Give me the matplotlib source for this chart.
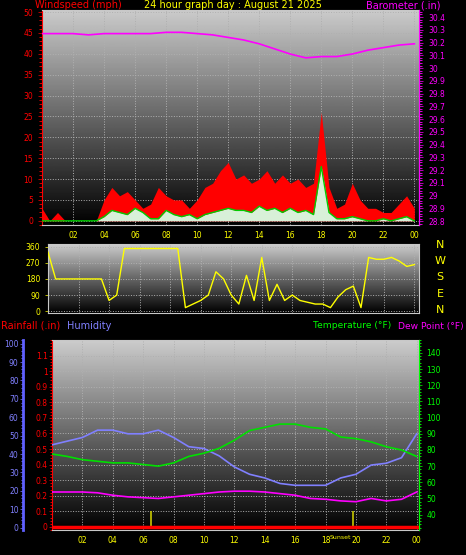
#!/usr/bin/env python3
"""Weather 24 hour graph: wind, barometer, direction, temperature, humidity."""

import numpy as np
import matplotlib
matplotlib.use("Agg")
import matplotlib.pyplot as plt
from matplotlib.ticker import MultipleLocator

W, H = 466, 555

half_hours = [i * 0.5 for i in range(49)]
hours = list(range(25))

gust = [3, 0, 2, 0, 0, 0, 0, 0, 5, 8, 6, 7, 5, 3, 4, 8, 6, 5, 5, 3, 5, 8, 9, 12, 14,
        10, 11, 9, 10, 12, 9, 11, 9, 10, 8, 9, 26, 8, 3, 4, 9, 5, 3, 3, 2, 2, 4, 6, 3]
wind_avg = [0, 0, 0, 0, 0, 0, 0, 0, 1, 2.5, 2, 1.5, 3, 2, 0.5, 0.5, 2.5, 1.5, 1, 1.5, 0.5,
            1.5, 2, 2.5, 3, 2.5, 2.5, 2, 3.5, 2.5, 3, 2, 3, 2, 2.5, 1.5, 13, 2, 0.5, 0.5,
            1, 0.5, 0, 0, 0.5, 0, 0.5, 1, 0]
barometer = [30.27, 30.27, 30.27, 30.26, 30.27, 30.27, 30.27, 30.27, 30.28, 30.28, 30.27,
             30.26, 30.24, 30.22, 30.19, 30.15, 30.11, 30.08, 30.09, 30.09, 30.11, 30.14,
             30.16, 30.18, 30.19]
wind_dir = [330, 180, 180, 180, 180, 180, 180, 180, 60, 90, 350, 350, 350, 350, 350, 350,
            350, 350, 20, 40, 60, 90, 220, 180, 90, 40, 200, 60, 300, 60, 150, 60, 90, 60,
            50, 40, 40, 20, 80, 120, 140, 20, 300, 290, 290, 300, 280, 250, 260]
humidity = [45, 47, 49, 53, 53, 51, 51, 53, 49, 44, 43, 39, 33, 29, 27, 24, 23, 23, 23,
            27, 29, 34, 35, 38, 51]
temperature = [77.5, 76, 74, 73, 72, 72, 71, 70, 72, 76, 78, 81, 86, 92, 94, 96, 96, 94,
               93, 88, 87, 85, 82, 80, 76]
dew_point = [54, 54, 54, 53.5, 52, 51, 50.5, 50, 51, 52, 53, 54, 54.5, 54.5, 54, 53, 52,
             50, 49.5, 48.5, 48, 50, 48.5, 49.5, 54]
rainfall = [0] * 25
sunrise, sunset = 6.5, 19.8

tick_hours = list(range(2, 25, 2))
tick_labels = [f"{h % 24:02d}" for h in tick_hours]

YEL = "#ffff00"
SZ = 5.5


def px_axes(fig, x0, y0, x1, y1):
    return fig.add_axes([x0 / W, 1 - y1 / H, (x1 - x0) / W, (y1 - y0) / H])


def backdrop(ax):
    grad = np.linspace(0.8, 0.0, 256).reshape(-1, 1)
    ax.imshow(grad, cmap="gray", vmin=0, vmax=1, extent=[0, 1, 0, 1],
              transform=ax.transAxes, aspect="auto", zorder=0)
    ax.grid(True, color="#b0b0b0", linestyle=":", linewidth=0.7, zorder=1)
    for s in ax.spines.values():
        s.set_color("#c8c8c8")


fig = plt.figure(figsize=(W / 100, H / 100), dpi=100, facecolor="black")

# --- wind / barometer ---
ax1 = px_axes(fig, 42, 10, 419, 225)
ax1.set_facecolor("black")
backdrop(ax1)
ax1.fill_between(half_hours, gust, color="#ff0000", zorder=2, linewidth=0)
ax1.fill_between(half_hours, wind_avg, color="#d8f0d8", zorder=3, linewidth=0)
ax1.plot(half_hours, wind_avg, color="#00cc00", linewidth=1, zorder=4)
ax1.set_xlim(0, 24.3)
ax1.set_ylim(-1, 50.5)
ax1.set_yticks(range(0, 51, 5))
ax1.yaxis.set_minor_locator(MultipleLocator(1))
ax1.tick_params(axis="y", colors="#ff0000", labelsize=SZ, length=3, width=0.5)
ax1.tick_params(axis="y", which="minor", colors="#ff0000", length=2)
ax1.set_xticks(tick_hours, tick_labels)
ax1.tick_params(axis="x", colors=YEL, labelsize=SZ, length=0, pad=4)
ax1.spines["left"].set_color("#ff0000")
ax1b = ax1.twinx()
ax1b.plot(hours, barometer, color="#ff00ff", linewidth=1.2, zorder=5)
ax1b.set_ylim(28.77, 30.455)
baro_ticks = np.round(np.arange(28.8, 30.41, 0.1), 1)
ax1b.set_yticks(baro_ticks)
ax1b.set_yticklabels([f"{v:g}" for v in baro_ticks])
ax1b.yaxis.set_minor_locator(MultipleLocator(0.02))
ax1b.tick_params(axis="y", colors="#ff00ff", labelsize=SZ, length=3, width=0.5)
ax1b.tick_params(axis="y", which="minor", colors="#ff00ff", length=2)
ax1b.spines["right"].set_color("#ff00ff")
for s in ("top", "left", "bottom"):
    ax1b.spines[s].set_visible(False)

fig.text(35 / W, 1 - 5 / H, "Windspeed (mph)", color="#ff0000", fontsize=7, va="center")
fig.text(233 / W, 1 - 5 / H, "24 hour graph day : August 21 2025", color=YEL,
         fontsize=7, va="center", ha="center")
fig.text(440 / W, 1 - 5 / H, "Barometer (.in)", color="#ff00ff", fontsize=7,
         va="center", ha="right")

# --- wind direction ---
ax2 = px_axes(fig, 48, 244, 419, 313)
ax2.set_facecolor("black")
backdrop(ax2)
ax2.plot(half_hours, wind_dir, color=YEL, linewidth=1, zorder=3)
ax2.set_xlim(0, 24.3)
ax2.set_ylim(-10, 375)
ax2.set_yticks(range(0, 361, 90))
ax2.tick_params(axis="y", colors=YEL, labelsize=SZ, length=2, width=0.5)
ax2.set_xticks(tick_hours, [])
ax2.tick_params(axis="x", length=0)
for lab, y in zip("NWSEN", (245, 261, 277, 294, 310)):
    fig.text(440 / W, 1 - y / H, lab, color=YEL, fontsize=8, ha="center", va="center")

fig.text(1 / W, 1 - 326 / H, "Rainfall (.in)", color="#ff0000", fontsize=7, va="center")
fig.text(67 / W, 1 - 326 / H, "Humidity", color="#8080ff", fontsize=7, va="center")
fig.text(313 / W, 1 - 326 / H, "Temperature (°F)", color="#00ff00", fontsize=6.6,
         va="center")
fig.text(464 / W, 1 - 326 / H, "Dew Point (°F)", color="#ff00ff", fontsize=6.6,
         va="center", ha="right")

# --- temperature / humidity / rain ---
ax3 = px_axes(fig, 52, 340, 419, 530)
ax3.set_facecolor("black")
backdrop(ax3)
ax3.set_xlim(0, 24.15)
ax3.set_ylim(-0.02, 1.2)
ax3.plot(hours, rainfall, color="#ff0000", linewidth=2.5, zorder=4)
ax3.vlines([sunrise, sunset], 0, 0.1, color="#c8c800", linewidth=1.2, zorder=3)
rain_ticks = np.round(np.arange(0, 1.11, 0.1), 1)
ax3.set_yticks(rain_ticks)
ax3.set_yticklabels([f"{v:g}" for v in rain_ticks])
ax3.yaxis.set_minor_locator(MultipleLocator(0.02))
ax3.tick_params(axis="y", colors="#ff0000", labelsize=SZ, length=2, width=0.5, pad=1)
ax3.tick_params(axis="y", which="minor", colors="#ff0000", length=1.5)
ax3.spines["left"].set_color("#ff0000")
ax3.set_xticks(tick_hours, tick_labels)
ax3.tick_params(axis="x", colors=YEL, labelsize=SZ, length=0, pad=4)
ax3.text(19.0, -0.055, "Sunset", color=YEL, fontsize=4.5, ha="center", va="top")

ax3h = ax3.twinx()
ax3h.plot(hours, humidity, color="#8080ff", linewidth=1.2, zorder=5)
ax3h.set_ylim(-1.3, 102)
ax3h.yaxis.tick_left()
ax3h.spines["left"].set_position(("outward", 21))
ax3h.spines["left"].set_color("#6060ff")
ax3h.spines["left"].set_linewidth(2)
ax3h.set_yticks(range(0, 101, 10))
ax3h.yaxis.set_minor_locator(MultipleLocator(2))
ax3h.tick_params(axis="y", colors="#8080ff", labelsize=SZ, length=2, width=0.5, pad=1)
ax3h.tick_params(axis="y", which="minor", colors="#8080ff", length=1.5)
for s in ("top", "right", "bottom"):
    ax3h.spines[s].set_visible(False)

ax3t = ax3.twinx()
ax3t.plot(hours, temperature, color="#00e000", linewidth=1.2, zorder=5)
ax3t.plot(hours, dew_point, color="#ff00ff", linewidth=1.2, zorder=5)
ax3t.set_ylim(30.5, 148)
ax3t.set_yticks(range(40, 141, 10))
ax3t.yaxis.set_minor_locator(MultipleLocator(2))
ax3t.tick_params(axis="y", colors="#00ff00", labelsize=SZ, length=2, width=0.5)
ax3t.tick_params(axis="y", which="minor", colors="#00ff00", length=1.5)
ax3t.spines["right"].set_color("#00ff00")
for s in ("top", "left", "bottom"):
    ax3t.spines[s].set_visible(False)

fig.savefig("out.png", dpi=100, facecolor="black")
